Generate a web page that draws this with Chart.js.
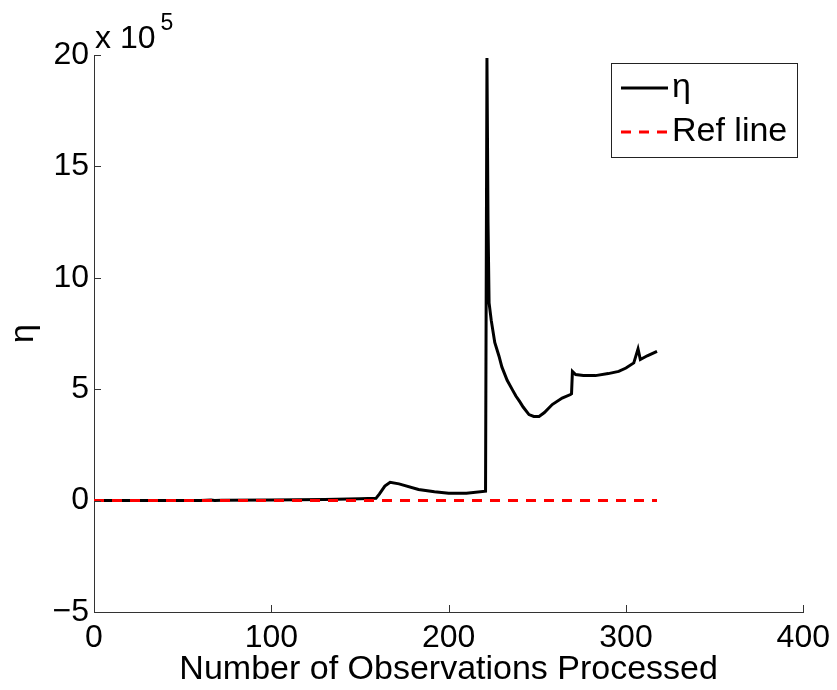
<!DOCTYPE html>
<html>
<head>
<meta charset="utf-8">
<script src="https://cdn.jsdelivr.net/npm/chart.js@4.4.1/dist/chart.umd.min.js"></script>
<style>
  html, body { margin: 0; padding: 0; background: #fff; }
</style>
</head>
<body>
<canvas id="chart" width="837" height="690"></canvas>
<script>
/**
 * eta vs number of observations processed (values in units of 10^5)
 */

const OBS_X = [
  0, 20, 40, 60, 66, 68, 72, 100, 130, 150, 159, 161, 164, 167, 172, 183,
  192, 200, 210, 220.8, 221.6, 222.2, 222.8, 224, 226, 228.4, 230, 233,
  235.9, 238, 240, 242, 245.3, 248, 251, 254, 258.4, 264, 268.7, 269.3,
  269.8, 271.6, 276, 282.8, 290, 295.9, 300, 304.4, 306.8, 308.1, 312, 317.5,
];
const ETA_VALUES = [
  0, 0, 0.005, 0.01, 0.03, 0.01, 0.015, 0.03, 0.05, 0.08, 0.1, 0.3, 0.65, 0.82,
  0.75, 0.5, 0.4, 0.33, 0.33, 0.42, 19.87, 12.5, 8.87, 8.1, 7.1, 6.48, 6.0,
  5.4, 4.98, 4.68, 4.45, 4.2, 3.86, 3.78, 3.78, 3.95, 4.31, 4.6, 4.76, 4.8,
  5.8, 5.66, 5.62, 5.61, 5.7, 5.8, 5.95, 6.18, 6.81, 6.33, 6.5, 6.7,
];
const REF_X = [0, 317.5];
const REF_VALUES = [0, 0];

const X_TICKS = [0, 100, 200, 300, 400];
const Y_TICKS = [-5, 0, 5, 10, 15, 20];

const FONT = '"Liberation Sans", Arial, Helvetica, sans-serif';
const AXIS_COLOR = "#333";

function toPoints(xs, ys) {
  return xs.map((x, i) => ({ x, y: ys[i] }));
}

// MATLAB-style inward ticks, the x 10^5 multiplier and the boxed legend
const matlabDecor = {
  id: "matlabDecor",
  afterDraw(chart) {
    const { ctx, chartArea, scales } = chart;
    const tick = 7;
    ctx.save();
    ctx.strokeStyle = AXIS_COLOR;
    ctx.lineWidth = 1;
    ctx.beginPath();
    X_TICKS.forEach((v) => {
      const px = Math.round(scales.x.getPixelForValue(v)) + 0.5;
      ctx.moveTo(px, chartArea.bottom);
      ctx.lineTo(px, chartArea.bottom - tick);
    });
    Y_TICKS.forEach((v) => {
      const py = Math.round(scales.y.getPixelForValue(v)) + 0.5;
      ctx.moveTo(chartArea.left, py);
      ctx.lineTo(chartArea.left + tick, py);
    });
    ctx.stroke();

    // exponent label above the y axis
    ctx.fillStyle = "#000";
    ctx.textBaseline = "alphabetic";
    ctx.textAlign = "left";
    ctx.font = "32px " + FONT;
    ctx.fillText("x 10", chartArea.left + 1, 48);
    const w = ctx.measureText("x 10").width;
    ctx.font = "23px " + FONT;
    ctx.fillText("5", chartArea.left + 1 + w + 5, 30);

    // legend
    const box = { left: 611, top: 63, right: 797, bottom: 157 };
    ctx.fillStyle = "#fff";
    ctx.fillRect(box.left, box.top, box.right - box.left, box.bottom - box.top);
    ctx.strokeStyle = "#222";
    ctx.lineWidth = 1;
    ctx.strokeRect(box.left + 0.5, box.top + 0.5, box.right - box.left, box.bottom - box.top);
    const rows = [
      { ds: chart.data.datasets[0], y: 88 },
      { ds: chart.data.datasets[1], y: 132 },
    ];
    rows.forEach((r) => {
      ctx.beginPath();
      ctx.strokeStyle = r.ds.borderColor;
      ctx.lineWidth = r.ds.borderWidth;
      ctx.setLineDash(r.ds.borderDash || []);
      ctx.moveTo(621, r.y);
      ctx.lineTo(668, r.y);
      ctx.stroke();
      ctx.setLineDash([]);
      ctx.fillStyle = "#000";
      ctx.font = "34px " + FONT;
      ctx.textBaseline = "middle";
      ctx.fillText(r.ds.label, 672, r.y);
    });
    ctx.restore();
  },
};

const ctx = document.getElementById("chart");

new Chart(ctx, {
  type: "scatter",
  data: {
    datasets: [
      {
        label: "η",
        data: toPoints(OBS_X, ETA_VALUES),
        showLine: true,
        borderColor: "#000",
        borderWidth: 3,
        pointRadius: 0,
        tension: 0,
        order: 2,
      },
      {
        label: "Ref line",
        data: toPoints(REF_X, REF_VALUES),
        showLine: true,
        borderColor: "#ff0000",
        borderWidth: 3,
        borderDash: [10, 8],
        pointRadius: 0,
        tension: 0,
        order: 1,
      },
    ],
  },
  options: {
    responsive: false,
    animation: false,
    layout: { padding: { top: 55, right: 32, left: 0, bottom: 0 } },
    plugins: {
      legend: { display: false },
      tooltip: { enabled: false },
    },
    scales: {
      x: {
        type: "linear",
        min: 0,
        max: 400,
        afterFit: (s) => { s.height = 78; },
        afterBuildTicks: (s) => { s.ticks = X_TICKS.map((v) => ({ value: v })); },
        ticks: { color: "#000", font: { family: FONT, size: 32 }, padding: 7, maxRotation: 0 },
        grid: { display: true, drawOnChartArea: false, drawTicks: false },
        border: { display: true, color: AXIS_COLOR, width: 1 },
        title: {
          display: true,
          text: "Number of Observations Processed",
          color: "#000",
          font: { family: FONT, size: 34 },
          padding: { top: 0, bottom: 0 },
        },
      },
      y: {
        type: "linear",
        min: -5,
        max: 20,
        afterFit: (s) => { s.width = 94; },
        afterBuildTicks: (s) => { s.ticks = Y_TICKS.map((v) => ({ value: v })); },
        ticks: {
          color: "#000",
          font: { family: FONT, size: 32 },
          padding: 5,
          callback: (v) => (v < 0 ? "\u2212" + Math.abs(v) : String(v)),
        },
        grid: { display: true, drawOnChartArea: false, drawTicks: false },
        border: { display: true, color: AXIS_COLOR, width: 1 },
        title: {
          display: true,
          text: "η",
          color: "#000",
          font: { family: FONT, size: 34 },
          padding: { top: 3, bottom: 0 },
        },
      },
    },
  },
  plugins: [matlabDecor],
});
</script>
</body>
</html>
